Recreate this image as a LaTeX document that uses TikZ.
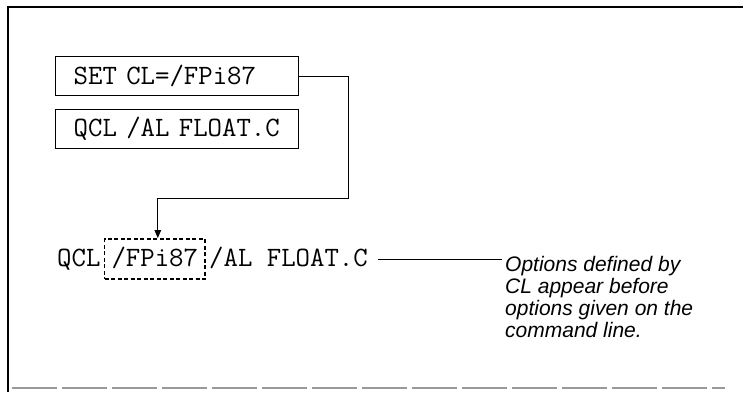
\documentclass[tikz,border=0pt]{standalone}
\usepackage{fontspec}
\usepackage{tikz}
\usetikzlibrary{arrows.meta}
\usetikzlibrary{positioning}
\newfontfamily\notefont{Liberation Sans}

\begin{document}
\begin{tikzpicture}[x=1pt,y=-1pt,>={Triangle[length=8pt,width=6.5pt]},
  cmd/.style={draw,line width=1.4pt,anchor=north west,text width=207pt,align=left,inner xsep=18pt,inner ysep=0pt,minimum height=39pt,font=\ttfamily\fontsize{28}{28}\selectfont},
  code/.style={inner sep=0pt,text height=17pt,text depth=3pt,font=\ttfamily\fontsize{28}{28}\selectfont},
  optbox/.style={draw,line width=1.8pt,dash pattern=on 4pt off 2.5pt,inner xsep=7pt,inner ysep=10pt},
  note/.style={align=left,inner sep=0pt,font=\notefont\itshape\fontsize{21}{22}\selectfont}]
\useasboundingbox (0,0) rectangle (743,394);
% frame
\draw[line width=2pt] (743,7) -- (8,7) -- (8,392);
\draw[gray!80,line width=1.3pt,dash pattern=on 45pt off 5pt] (12,388) -- (725,388);
% commands
\node[cmd] (set) at (55,56) {SET CL=/FPi87};
\node[cmd] (qcl) at (55,109) {QCL /AL FLOAT.C};
% resulting command line
\node[code,anchor=base west] (q) at (57,266) {QCL};
\node[code,optbox,base right=3pt of q] (opt) {/FPi87};
\node[code,base right=3pt of opt] (rest) {/AL FLOAT.C};
\node[note,anchor=north west] (note) at (505,256) {Options defined by\\CL appear before\\options given on the\\command line.};
\draw[->,line width=1pt] (set.east) -| ++(49,122) -| ([xshift=3pt]opt.north);
\draw[line width=1pt] ([xshift=10pt]rest.east) -- ([xshift=-3pt]note.west |- rest.east);
\end{tikzpicture}
\end{document}
